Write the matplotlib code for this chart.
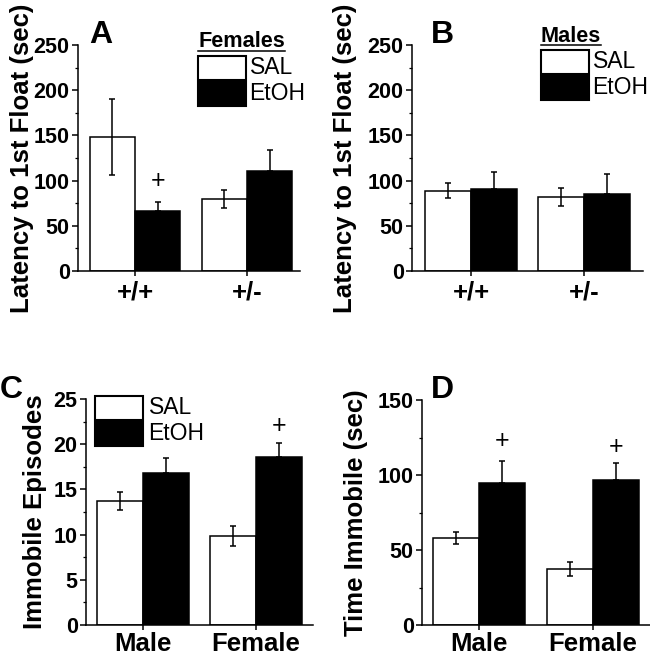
import matplotlib
matplotlib.use("Agg")
from matplotlib import pyplot as plt
from matplotlib.patches import Rectangle
from matplotlib.lines import Line2D
import numpy as np

plt.rcParams['font.family'] = ['Liberation Sans', 'DejaVu Sans']

# panel A/B groups
genotypes = ['+/+', '+/-']
fem_sal = [148, 80]
fem_sal_err = [42, 10]
fem_etoh = [66, 111]
fem_etoh_err = [10, 23]
male_sal = [89, 82]
male_sal_err = [8, 10]
male_etoh = [91, 85]
male_etoh_err = [18, 22]

# panel C/D groups
sexes = ['Male', 'Female']
ep_sal = [13.7, 9.8]
ep_sal_err = [1.0, 1.1]
ep_etoh = [16.8, 18.6]
ep_etoh_err = [1.7, 1.5]
imm_sal = [58, 37.5]
imm_sal_err = [4, 4.5]
imm_etoh = [95, 96.7]
imm_etoh_err = [14.5, 11]

# "+" significance marks (group index, y value) above EtOH bars
plus_A = [(0, 100)]
plus_C = [(1, 22)]
plus_D = [(0, 123), (1, 119)]

W, H = 650, 654
fig = plt.figure(figsize=(W / 100, H / 100), dpi=100)


def fx(x):
    return x / W


def fy(y):
    return 1 - y / H


def make_axes(left, top, right, bottom):
    return fig.add_axes([fx(left), fy(bottom), fx(right - left), (bottom - top) / H])


def bar_panel(ax, labels, sal, sal_err, etoh, etoh_err, ymax, ystep, xlim, ylabel, plus,
              xpad=3):
    x = np.arange(len(labels))
    w = 0.405
    ax.bar(x - w / 2, sal, w, color='white', edgecolor='black', linewidth=1.1, zorder=2)
    ax.bar(x + w / 2, etoh, w, color='black', edgecolor='black', linewidth=1.1, zorder=2)
    ax.errorbar(x - w / 2, sal, yerr=sal_err, fmt='none', ecolor='black',
                elinewidth=1.1, capsize=2, capthick=1.1, zorder=3)
    ax.errorbar(x + w / 2, etoh, yerr=[np.zeros(len(etoh)), etoh_err], fmt='none',
                ecolor='black', elinewidth=1.1, capsize=2, capthick=1.1, zorder=3)
    for i, yv in plus:
        ax.text(x[i] + w / 2, yv, '+', ha='center', va='center', fontsize=18,
                fontweight='normal')
    ax.set_xlim(*xlim)
    ax.set_ylim(0, ymax)
    ax.set_yticks(np.arange(0, ymax + ystep / 2, ystep))
    ax.set_yticks(np.arange(ystep / 2, ymax, ystep), minor=True)
    ax.set_xticks(x)
    ax.set_xticklabels(labels, fontsize=18.5, fontweight='bold')
    for t in ax.get_yticklabels():
        t.set_fontsize(15.5)
        t.set_fontweight('bold')
    ax.spines['top'].set_visible(False)
    ax.spines['right'].set_visible(False)
    ax.spines['left'].set_linewidth(1.1)
    ax.spines['bottom'].set_linewidth(1.1)
    ax.tick_params(axis='y', which='major', direction='out', length=4, width=1.1, pad=2)
    ax.tick_params(axis='y', which='minor', direction='out', length=2.2, width=0.9)
    ax.tick_params(axis='x', which='major', direction='out', length=3.5, width=1.1, pad=xpad)
    ax.set_ylabel(ylabel, fontsize=18.5, fontweight='bold', va='center')


def key(title, tx, ty, box_x, box_y, text_x, uline=None):
    # title text (underlined), SAL box, EtOH box
    if title:
        fig.text(fx(tx), fy(ty), title, fontsize=15.6, fontweight='bold',
                 ha='left', va='baseline')
        fig.add_artist(Line2D([fx(uline[0]), fx(uline[1])], [fy(uline[2])] * 2,
                              color='black', linewidth=1.1, transform=fig.transFigure))
    bw, bh = 48, 24
    fig.add_artist(Rectangle((fx(box_x), fy(box_y + bh)), bw / W, bh / H,
                             facecolor='white', edgecolor='black', linewidth=1.5,
                             transform=fig.transFigure))
    fig.add_artist(Rectangle((fx(box_x), fy(box_y + 2 * bh + 2)), bw / W, bh / H,
                             facecolor='black', edgecolor='black', linewidth=1.5,
                             transform=fig.transFigure))
    fig.text(fx(text_x), fy(box_y + bh / 2), 'SAL', fontsize=16.5, ha='left', va='center')
    fig.text(fx(text_x - 1), fy(box_y + bh * 1.5 + 2), 'EtOH', fontsize=16.5,
             ha='left', va='center')


axA = make_axes(78, 45, 300, 271)
bar_panel(axA, genotypes, fem_sal, fem_sal_err, fem_etoh, fem_etoh_err, 250, 50,
          (-0.509, 1.473), 'Latency to 1st Float (sec)', plus_A)
axA.yaxis.set_label_coords(-0.252, 0.5)

axB = make_axes(412, 45, 643, 271)
bar_panel(axB, genotypes, male_sal, male_sal_err, male_etoh, male_etoh_err, 250, 50,
          (-0.522, 1.522), 'Latency to 1st Float (sec)', [])
axB.yaxis.set_label_coords(-0.29, 0.5)

axC = make_axes(86, 399, 313, 625)
bar_panel(axC, sexes, ep_sal, ep_sal_err, ep_etoh, ep_etoh_err, 25, 5,
          (-0.504, 1.504), 'Immobile Episodes', plus_C, xpad=1.5)
axC.yaxis.set_label_coords(-0.225, 0.5)

axD = make_axes(422, 400, 650, 625)
bar_panel(axD, sexes, imm_sal, imm_sal_err, imm_etoh, imm_etoh_err, 150, 50,
          (-0.5, 1.5), 'Time Immobile (sec)', plus_D, xpad=1.5)
axD.yaxis.set_label_coords(-0.29, 0.5)

# panel letters
for lab, x, y in [('A', 89, 43), ('B', 431, 43), ('C', 0, 398), ('D', 431, 398)]:
    fig.text(fx(x), fy(y), lab, fontsize=23, fontweight='bold', ha='left', va='baseline')

key('Females', 198, 47, 198, 56, 250, uline=(198, 285, 51))
key('Males', 541, 42, 541, 50, 593, uline=(541, 601, 45))
key(None, 0, 0, 95, 396, 149)

fig.savefig('out.png', dpi=100)
